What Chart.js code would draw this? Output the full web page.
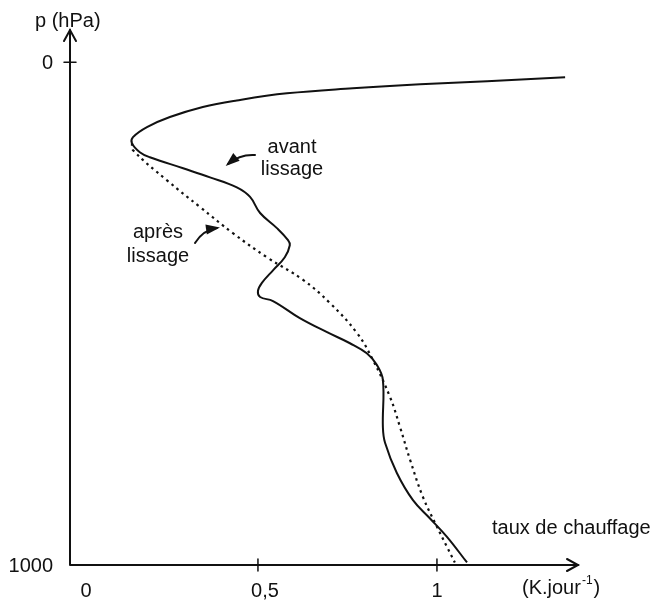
<!DOCTYPE html>
<html>
<head>
<meta charset="utf-8">
<script src="https://cdn.jsdelivr.net/npm/chart.js@4/dist/chart.umd.min.js"></script>
<style>
  body { margin: 0; background: #fff; }
  canvas { display: block; }
</style>
</head>
<body>
<canvas id="chart" width="656" height="600"></canvas>
<script>
// --- donnees (taux en K/jour, p en hPa) ---
const avantTaux = [1.358, 1.140, 0.953, 0.765, 0.581, 0.441, 0.346, 0.254, 0.190, 0.151, 0.148, 0.170, 0.198,
    0.291, 0.366, 0.441, 0.478, 0.506, 0.553, 0.584, 0.589, 0.575, 0.542, 0.511, 0.500, 0.506, 0.542,
    0.617, 0.693, 0.757, 0.804, 0.832, 0.849, 0.849, 0.855, 0.888, 0.933, 0.980, 1.028, 1.084];
const avantP = [30, 38, 44, 52, 62, 76, 89, 109, 129, 149, 161, 179, 189,
    211, 229, 249, 268, 300, 330, 354, 364, 388, 414, 439, 455, 467, 475,
    509, 537, 559, 579, 602, 632, 726, 757, 817, 871, 907, 944, 995];

const apresTaux = [0.148, 0.151, 0.246, 0.338, 0.430, 0.525, 0.626, 0.701, 0.777, 0.821, 0.869,
    0.897, 0.925, 0.961, 1.000, 1.028, 1.050];
const apresP = [161, 175, 235, 288, 340, 388, 433, 479, 539, 592, 666,
    726, 791, 865, 924, 964, 995];

const xTicks = [0, 0.5, 1];
const xTickLabels = ["0", "0,5", "1"];
const yTicks = [0, 1000];
const yTickLabels = ["0", "1000"];

const INK = "#111";
const FONT = "20px 'Liberation Sans', Arial, sans-serif";

function toPoints(xs, ys) {
    return xs.map((x, i) => ({ x: x, y: ys[i] }));
}

// fleche courbe avec pointe pleine
function curvedArrow(ctx, x0, y0, cx, cy, x1, y1) {
    ctx.beginPath();
    ctx.moveTo(x0, y0);
    ctx.quadraticCurveTo(cx, cy, x1, y1);
    ctx.lineWidth = 2;
    ctx.stroke();
    const a = Math.atan2(y1 - cy, x1 - cx);
    const L = 11, W = 5;
    ctx.beginPath();
    ctx.moveTo(x1 + Math.cos(a) * 3, y1 + Math.sin(a) * 3);
    ctx.lineTo(x1 - Math.cos(a) * L + Math.sin(a) * W, y1 - Math.sin(a) * L - Math.cos(a) * W);
    ctx.lineTo(x1 - Math.cos(a) * L - Math.sin(a) * W, y1 - Math.sin(a) * L + Math.cos(a) * W);
    ctx.closePath();
    ctx.fill();
}

const axesPlugin = {
    id: "axesPlugin",
    afterDatasetsDraw(chart) {
        const ctx = chart.ctx;
        const xs = chart.scales.x, ys = chart.scales.y;
        const area = chart.chartArea;
        const ax = area.left, ay = area.bottom;

        ctx.save();
        ctx.strokeStyle = INK;
        ctx.fillStyle = INK;
        ctx.lineWidth = 2;
        ctx.lineCap = "round";

        // axes
        ctx.beginPath();
        ctx.moveTo(ax, ay);
        ctx.lineTo(ax, area.top);
        ctx.moveTo(ax, ay);
        ctx.lineTo(area.right, ay);
        ctx.stroke();

        // pointes de fleche
        ctx.beginPath();
        ctx.moveTo(ax - 6, area.top + 11);
        ctx.lineTo(ax, area.top);
        ctx.lineTo(ax + 6, area.top + 11);
        ctx.moveTo(area.right - 11, ay - 6);
        ctx.lineTo(area.right, ay);
        ctx.lineTo(area.right - 11, ay + 6);
        ctx.stroke();

        // graduations
        ctx.lineWidth = 1.5;
        ctx.beginPath();
        xTicks.forEach(v => {
            if (v === 0) return;
            const px = xs.getPixelForValue(v);
            ctx.moveTo(px, ay - 6);
            ctx.lineTo(px, ay + 6);
        });
        yTicks.forEach(v => {
            if (v === 1000) return;
            const py = ys.getPixelForValue(v);
            ctx.moveTo(ax - 6, py);
            ctx.lineTo(ax + 6, py);
        });
        ctx.stroke();

        ctx.font = FONT;
        ctx.textBaseline = "alphabetic";

        // etiquettes
        ctx.textAlign = "center";
        xTicks.forEach((v, i) => {
            const off = v === 1 ? 0 : 7;
            ctx.fillText(xTickLabels[i], xs.getPixelForValue(v) + off, 597);
        });
        ctx.textAlign = "right";
        yTicks.forEach((v, i) => {
            ctx.fillText(yTickLabels[i], ax - 17, ys.getPixelForValue(v) + 7);
        });

        // titres d'axes
        ctx.textAlign = "left";
        ctx.fillText("p (hPa)", 35, 27);
        ctx.fillText("taux de chauffage", 492, 534);
        ctx.fillText("(K.jour", 522, 594);
        const w = ctx.measureText("(K.jour").width;
        ctx.font = "12px 'Liberation Sans', Arial, sans-serif";
        ctx.fillText("-1", 523 + w, 584);
        const w2 = ctx.measureText("-1").width;
        ctx.font = FONT;
        ctx.fillText(")", 524 + w + w2, 594);

        // annotations
        ctx.textAlign = "center";
        ctx.fillText("avant", 292, 153);
        ctx.fillText("lissage", 292, 175);
        ctx.fillText("après", 158, 238);
        ctx.fillText("lissage", 158, 262);

        ctx.lineWidth = 2;
        curvedArrow(ctx, 255, 155, 240, 154, 228, 164);
        curvedArrow(ctx, 195, 243, 203, 230, 217, 228);

        ctx.restore();
    }
};

new Chart(document.getElementById("chart"), {
    type: "scatter",
    data: {
        datasets: [
            {
                label: "avant lissage",
                data: toPoints(avantTaux, avantP),
                showLine: true,
                borderColor: INK,
                borderWidth: 2,
                pointRadius: 0,
                tension: 0.4
            },
            {
                label: "après lissage",
                data: toPoints(apresTaux, apresP),
                showLine: true,
                borderColor: INK,
                borderWidth: 2.2,
                borderDash: [2.5, 4],
                pointRadius: 0,
                tension: 0.4
            }
        ]
    },
    options: {
        responsive: false,
        animation: false,
        layout: { padding: { left: 70, top: 30, right: 78, bottom: 35 } },
        plugins: { legend: { display: false }, tooltip: { enabled: false } },
        scales: {
            x: { type: "linear", display: false, min: -0.025, max: 1.394 },
            y: { type: "linear", display: false, reverse: true, min: -64, max: 1000 }
        }
    },
    plugins: [axesPlugin]
});
</script>
</body>
</html>
